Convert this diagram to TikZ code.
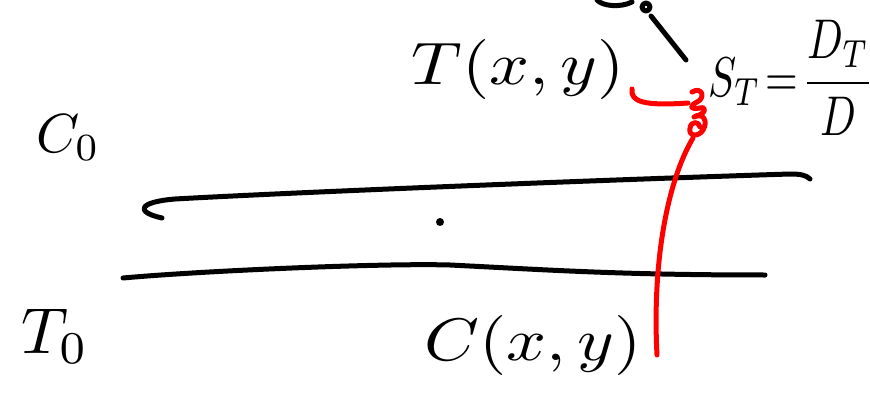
\documentclass[tikz,border=0pt]{standalone}
\usepackage{graphicx}
\begin{document}
\begin{tikzpicture}[x=1pt,y=-1pt,
  ink/.style={line width=5pt,line cap=round,line join=round},
  redink/.style={ink,draw=red},
  lbl/.style={inner sep=0pt}]
\useasboundingbox (0,0) rectangle (870,398);
% labels
\node[lbl] (Txy) at (518,70) {\scalebox{7}[6]{$T(x,y)$}};
\node[lbl] (Cxy) at (533,345) {\scalebox{7}[6]{$C(x,y)$}};
\node[lbl] (C0) at (68,138) {\scalebox{5.5}{$C_0$}};
\node[lbl] (T0) at (55,336) {\scalebox{6.5}{$T_0$}};
\node[lbl] (ST) at (791,78) {\scalebox{4.2}[5.6]{$\displaystyle S_T\!=\!\frac{D_T}{D}$}};
% channel walls
\draw[ink] (162,218) .. controls (135,212) and (138,202) .. (175,199)
  .. controls (300,192) and (600,180) .. (790,174) .. controls (800,174) and (806,175) .. (810,179);
\draw[ink] (123,278) .. controls (200,271) and (380,263) .. (450,265)
  .. controls (550,270) and (620,275) .. (765,275);
\node[circle,fill=black,inner sep=0pt,minimum size=8pt] (dot) at (440,222) {};
% top partial mark and pointer
\draw[ink] (597,0) .. controls (602,6) and (620,8) .. (632,2);
\draw[ink] (646,7) circle (4);
\coordinate (ptA) at (651,16);
\coordinate (ptB) at (686,60);
\draw[ink] (ptA) -- (ptB);
% red curve
\coordinate (r0) at (632,89);
\coordinate (r1) at (688,103);
\coordinate (r2) at (693,138);
\coordinate (r3) at (657,355);
\draw[redink] (r0) .. controls (630,102) and (645,106) .. (r1);
\draw[redink] (692,92) .. controls (702,86) and (706,98) .. (697,102) .. controls (689,106) and (690,110) .. (700,108)
  .. controls (707,106) and (706,114) .. (696,116);
\draw[redink] (694,117) .. controls (704,112) and (708,122) .. (703,130) .. controls (699,137) and (688,137) .. (690,128) .. controls (691,121) and (699,121) .. (700,127);
\draw[redink] (r2) .. controls (668,180) and (652,260) .. (r3);
\end{tikzpicture}
\end{document}
